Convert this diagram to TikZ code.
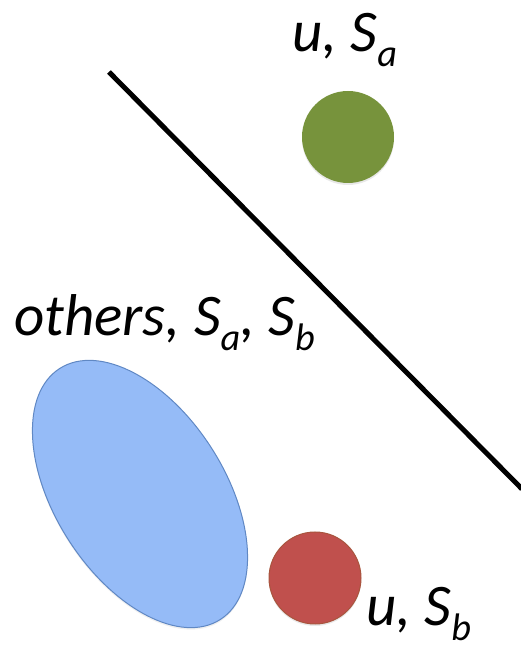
\documentclass[tikz,border=0pt]{standalone}
\usepackage{fontspec}
\setmainfont{Carlito}
\usetikzlibrary{shapes.geometric,shadows}
\definecolor{blobgreen}{HTML}{77933C}
\definecolor{blobred}{HTML}{C0504D}
\definecolor{blobredline}{HTML}{A8553E}
\definecolor{blobblue}{HTML}{95BBF7}
\definecolor{blobblueline}{HTML}{6088C4}
\newcommand{\lowsub}[1]{\raisebox{-0.24em}{\scalebox{0.65}{#1}}}
\tikzset{
  blob/.style={circle, minimum size=92pt, inner sep=0pt,
    drop shadow={shadow xshift=0pt, shadow yshift=-2pt, opacity=0.18}},
  cloud/.style={ellipse, minimum width=298pt, minimum height=170pt, inner sep=0pt,
    fill=blobblue, draw=blobblueline, line width=1pt,
    drop shadow={shadow xshift=0pt, shadow yshift=-2pt, opacity=0.12}},
  tag/.style={font=\fontsize{59}{68}\selectfont\itshape, anchor=base west, inner sep=0pt},
  divider/.style={line width=5pt, draw=black}
}

\begin{document}
\begin{tikzpicture}[x=1pt, y=1pt]
  \useasboundingbox (0,0) rectangle (520,652);

  % separating line
  \coordinate (cut1) at (109,580);
  \coordinate (cut2) at (522,163);
  \draw[divider] (cut1) -- (cut2);

  % points and the group of others
  \node[blob, fill=blobgreen] (ua) at (348,515) {};
  \node[blob, fill=blobred, draw=blobredline, line width=1pt] (ub) at (315,74) {};
  \node[cloud, rotate=-57.4] (others) at (140,158) {};

  % labels
  \node[tag] (ualab) at (292,600) {u, S\lowsub{a}};
  \node[tag] (otherslab) at (14,316) {others, S\lowsub{a}, S\lowsub{b}};
  \node[tag] (ublab) at (366,26) {u, S\lowsub{b}};
\end{tikzpicture}
\end{document}
